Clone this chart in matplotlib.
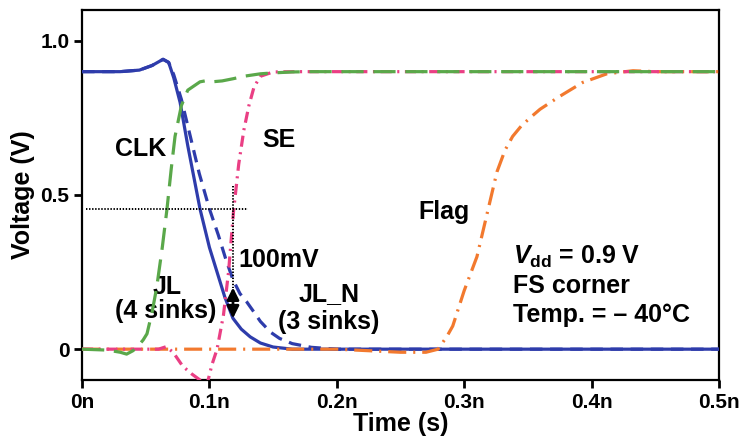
import matplotlib
matplotlib.use("Agg")
import matplotlib.pyplot as plt

plt.rcParams['font.family'] = ['Liberation Sans', 'DejaVu Sans']
plt.rcParams['font.weight'] = 'bold'
plt.rcParams['mathtext.fontset'] = 'custom'
plt.rcParams['mathtext.it'] = 'Liberation Sans:italic:bold'
plt.rcParams['mathtext.rm'] = 'Liberation Sans:bold'
plt.rcParams['mathtext.bf'] = 'Liberation Sans:bold'
plt.rcParams['lines.scale_dashes'] = False

# Time axis in ns
jl_t = [0, 0.03, 0.045, 0.055, 0.0636, 0.068, 0.072, 0.077, 0.083, 0.0926,
        0.1, 0.106, 0.112, 0.1185, 0.125, 0.132, 0.14, 0.15, 0.165, 0.2, 0.5]
jl_v = [0.9, 0.9, 0.905, 0.92, 0.94, 0.93, 0.88, 0.8, 0.66, 0.455,
        0.33, 0.25, 0.17, 0.1, 0.065, 0.04, 0.02, 0.007, 0.0, 0.0, 0.0]

jln_t = [0, 0.03, 0.045, 0.055, 0.0636, 0.068, 0.072, 0.078, 0.085, 0.092,
         0.1, 0.107, 0.113, 0.1185, 0.124, 0.129, 0.135, 0.14, 0.148, 0.155,
         0.165, 0.18, 0.2, 0.5]
jln_v = [0.9, 0.9, 0.905, 0.92, 0.94, 0.93, 0.89, 0.81, 0.69, 0.57,
         0.455, 0.37, 0.29, 0.225, 0.18, 0.155, 0.12, 0.09, 0.055, 0.035,
         0.018, 0.006, 0.0, 0.0]

clk_t = [0, 0.02, 0.03, 0.035, 0.04, 0.044, 0.048, 0.051, 0.055, 0.0586,
         0.063, 0.0667, 0.07, 0.073, 0.078, 0.083, 0.0926, 0.0965, 0.102,
         0.11, 0.1185, 0.1285, 0.14, 0.15, 0.165, 0.18, 0.5]
clk_v = [0, -0.003, -0.01, -0.016, -0.005, 0.01, 0.03, 0.05, 0.12, 0.2,
         0.33, 0.455, 0.584, 0.69, 0.79, 0.84, 0.867, 0.87, 0.867,
         0.87, 0.877, 0.886, 0.893, 0.896, 0.899, 0.9, 0.9]

se_t = [0, 0.06, 0.066, 0.0715, 0.079, 0.086, 0.0926, 0.096, 0.099, 0.102,
        0.106, 0.111, 0.115, 0.119, 0.123, 0.127, 0.131, 0.135, 0.14, 0.15,
        0.17, 0.5]
se_v = [0, 0, 0.008, -0.01, -0.055, -0.08, -0.1, -0.13, -0.1, -0.05,
        0, 0.11, 0.25, 0.45, 0.6, 0.71, 0.79, 0.85, 0.885, 0.899,
        0.9, 0.9]

flag_t = [0, 0.2, 0.25, 0.27, 0.2795, 0.2865, 0.291, 0.3, 0.31, 0.318,
          0.3257, 0.332, 0.338, 0.345, 0.353, 0.3595, 0.375, 0.393, 0.412,
          0.4325, 0.45, 0.5]
flag_v = [0, 0, -0.01, -0.01, 0, 0.042, 0.075, 0.19, 0.30, 0.44,
          0.575, 0.645, 0.69, 0.725, 0.755, 0.778, 0.82, 0.865, 0.893,
          0.903, 0.9, 0.9]

x_ticks = [0, 0.1, 0.2, 0.3, 0.4, 0.5]
x_ticklabels = ['0n', '0.1n', '0.2n', '0.3n', '0.4n', '0.5n']
y_ticks = [0, 0.5, 1.0]
y_ticklabels = ['0', '0.5', '1.0']

# Measurement markers
level_v = 0.455
probe_t = 0.1185
delta_lo, delta_hi = 0.1, 0.2

fig = plt.figure(figsize=(7.41, 4.38), dpi=100)
ax = fig.add_axes([0.1107, 0.1324, 0.8596, 0.8448])

blue = '#2e3cab'
green = '#5aa84a'
pink = '#ea3f84'
orange = '#f2792e'

lw = 2.3
ax.plot(jl_t, jl_v, color=blue, lw=lw, zorder=3)
ax.plot(jln_t, jln_v, color=blue, lw=lw, dashes=(9, 5.5), zorder=3)
ax.plot(flag_t, flag_v, color=orange, lw=lw, dashes=(13, 5, 1.5, 5), zorder=4)
ax.plot(se_t, se_v, color=pink, lw=lw, dashes=(8, 4, 1.5, 4), zorder=4)
ax.plot(clk_t, clk_v, color=green, lw=lw, dashes=(16, 7), zorder=5)

# Reference level and probe time
ax.plot([0.003, 0.13], [level_v, level_v], color='black', lw=1.4,
        linestyle=(0, (1, 1.2)), zorder=6)
ax.plot([probe_t, probe_t], [0.53, delta_hi], color='black', lw=1.4,
        linestyle=(0, (1, 1.2)), zorder=6)
ax.annotate('', xy=(probe_t, delta_lo), xytext=(probe_t, delta_hi),
            arrowprops=dict(arrowstyle='<|-|>', color='black', lw=2,
                            mutation_scale=18, shrinkA=0, shrinkB=0),
            zorder=7)

fs = 18
ax.text(0.0259, 0.627, 'CLK', fontsize=fs, fontweight='bold', ha='left', va='baseline')
ax.text(0.1412, 0.656, 'SE', fontsize=fs, fontweight='bold', ha='left', va='baseline')
ax.text(0.0671, 0.179, 'JL', fontsize=fs, fontweight='bold', ha='center', va='baseline')
ax.text(0.066, 0.10, '(4 sinks)', fontsize=fs, fontweight='bold', ha='center', va='baseline')
ax.text(0.1224, 0.266, '100mV', fontsize=fs, fontweight='bold', ha='left', va='baseline')
ax.text(0.194, 0.156, 'JL_N', fontsize=fs, fontweight='bold', ha='center', va='baseline')
ax.text(0.194, 0.065, '(3 sinks)', fontsize=fs, fontweight='bold', ha='center', va='baseline')
ax.text(0.2637, 0.422, 'Flag', fontsize=fs, fontweight='bold', ha='left', va='baseline')
ax.text(0.3382, 0.276, r'$\mathit{V}_{\mathrm{dd}}$ = 0.9 V', fontsize=fs,
        fontweight='bold', ha='left', va='baseline')
ax.text(0.3382, 0.182, 'FS corner', fontsize=fs, fontweight='bold', ha='left', va='baseline')
ax.text(0.3382, 0.0877, 'Temp. = \u2013 40\u00b0C', fontsize=fs, fontweight='bold',
        ha='left', va='baseline')

ax.set_xlim(0, 0.5)
ax.set_ylim(-0.1, 1.1)
ax.set_xticks(x_ticks)
ax.set_xticklabels(x_ticklabels)
ax.set_yticks(y_ticks)
ax.set_yticklabels(y_ticklabels)
ax.tick_params(direction='out', length=6, width=2, labelsize=15, pad=3)
for lab in ax.get_xticklabels() + ax.get_yticklabels():
    lab.set_fontweight('bold')
for sp in ax.spines.values():
    sp.set_linewidth(1.6)

ax.set_xlabel('Time (s)', fontsize=18, fontweight='bold', labelpad=0)
ax.set_ylabel('Voltage (V)', fontsize=18, fontweight='bold', labelpad=4)

fig.savefig('out.png', dpi=100)
